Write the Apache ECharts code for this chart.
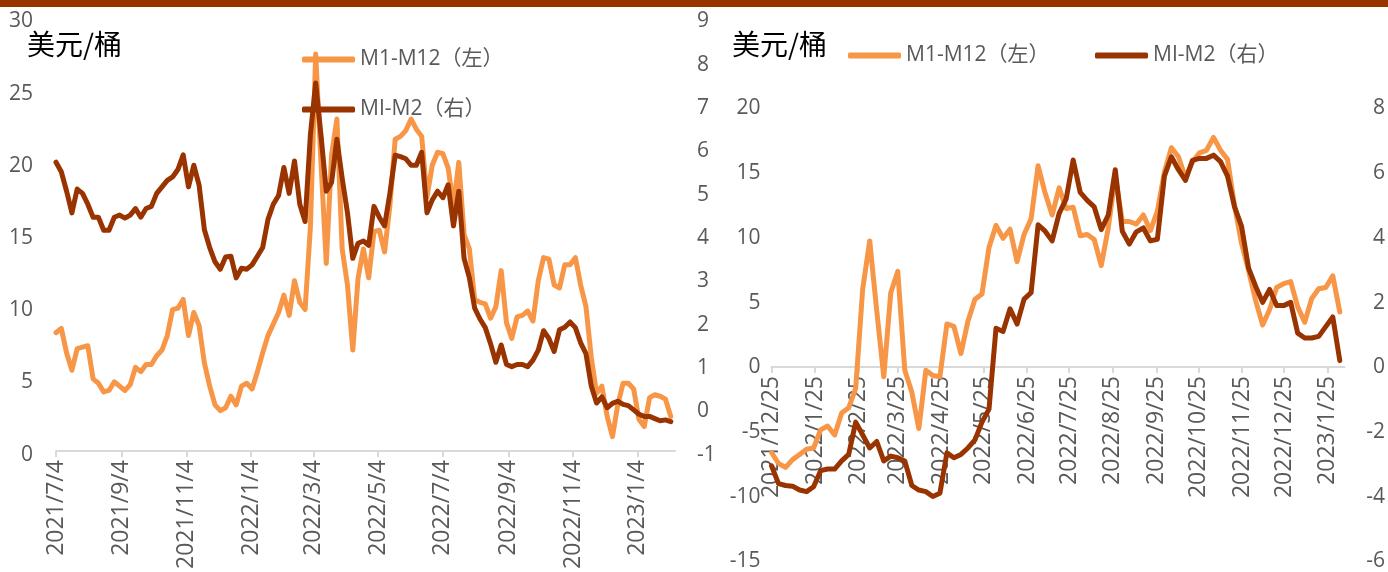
<!DOCTYPE html>
<html>
<head>
<meta charset="utf-8">
<script src="https://cdn.jsdelivr.net/npm/echarts@6/dist/echarts.min.js"></script>
<style>
html,body{margin:0;padding:0;background:#fff;}
#chart{width:1388px;height:572px;}
</style>
</head>
<body>
<div id="chart"></div>
<script>
// ---------- data ----------
const seriesNames = ['M1-M12（左）', 'MI-M2（右）'];
const unitLabel = '美元/桶';

// Left chart: one reading every 5 days starting 2021/7/4
const leftStart = '2021/7/4';
const leftEnd = '2023/2/8';
const leftStepDays = 5;
const leftTickLabels = ['2021/7/4','2021/9/4','2021/11/4','2022/1/4','2022/3/4','2022/5/4','2022/7/4','2022/9/4','2022/11/4','2023/1/4'];
const leftM1M12 = [
 8.2, 8.5, 6.8, 5.6, 7.1, 7.2, 7.3, 5.0, 4.7, 4.1,
 4.2, 4.8, 4.5, 4.2, 4.6, 5.8, 5.5, 6.0, 6.0, 6.6,
 7.0, 8.0, 9.8, 9.9, 10.5, 8.0, 9.6, 8.7, 6.1, 4.5,
 3.2, 2.8, 3.0, 3.8, 3.2, 4.5, 4.7, 4.3, 5.5, 6.8,
 8.0, 8.8, 9.6, 10.8, 9.4, 11.8, 10.3, 9.8, 15.5, 27.5,
 20.0, 13.0, 20.5, 23.0, 14.0, 11.5, 7.0, 12.0, 14.0, 12.0,
 15.2, 15.3, 13.8, 17.0, 21.6, 21.8, 22.2, 23.0, 22.3, 21.8,
 17.6, 19.8, 20.7, 20.6, 19.6, 17.0, 20.0, 15.0, 14.0, 10.5,
 10.3, 10.2, 9.2, 10.0, 12.5, 8.9, 7.8, 9.3, 9.4, 9.7,
 9.0, 11.8, 13.4, 13.3, 11.5, 11.3, 12.9, 12.9, 13.4, 11.5,
 10.0, 6.5, 4.0, 4.5, 2.4, 1.0, 3.2, 4.7, 4.7, 4.3,
 2.2, 1.7, 3.7, 3.9, 3.8, 3.6, 2.4
];
const leftM1M2 = [
 5.67, 5.45, 5.0, 4.5, 5.05, 4.95, 4.7, 4.4, 4.4, 4.1,
 4.1, 4.4, 4.45, 4.38, 4.45, 4.6, 4.4, 4.6, 4.65, 4.95,
 5.1, 5.25, 5.33, 5.5, 5.84, 5.1, 5.6, 5.14, 4.11, 3.7,
 3.37, 3.2, 3.48, 3.5, 3.0, 3.22, 3.2, 3.3, 3.5, 3.7,
 4.35, 4.7, 4.9, 5.55, 4.95, 5.7, 4.7, 4.3, 6.3, 7.5,
 6.3, 5.0, 5.2, 6.2, 5.3, 4.5, 3.45, 3.8, 3.85, 3.75,
 4.65, 4.4, 4.2, 4.95, 5.83, 5.8, 5.75, 5.6, 5.6, 5.9,
 4.5, 4.8, 5.0, 4.85, 5.15, 4.2, 5.0, 3.45, 3.0, 2.3,
 2.05, 1.85, 1.48, 1.05, 1.45, 1.0, 0.95, 1.0, 1.0, 0.95,
 1.1, 1.33, 1.78, 1.6, 1.3, 1.8, 1.86, 1.98, 1.85, 1.5,
 1.25, 0.5, 0.11, 0.25, 0.0, 0.1, 0.15, 0.08, 0.05, -0.05,
 -0.15, -0.2, -0.2, -0.25, -0.3, -0.28, -0.32
];
const leftLeftTicks = [0, 30, 5];   // min, max, interval
const leftRightTicks = [-1, 9, 1];

// Right chart: one reading every 5 days starting 2021/12/25
const rightStart = '2021/12/25';
const rightEnd = '2023/2/6';
const rightStepDays = 5;
const rightTickLabels = ['2021/12/25','2022/1/25','2022/2/25','2022/3/25','2022/4/25','2022/5/25','2022/6/25','2022/7/25','2022/8/25','2022/9/25','2022/10/25','2022/11/25','2022/12/25','2023/1/25'];
const rightM1M12 = [
 -6.85, -7.7, -8.0, -7.4, -7.0, -6.6, -6.5, -5.1, -4.8, -5.5,
 -3.8, -3.4, -1.9, 5.8, 9.5, 4.1, -1.0, 5.5, 7.15, -0.5,
 -2.2, -5.0, -0.5, -0.9, -1.0, 3.08, 2.9, 0.8, 3.3, 5.0,
 5.4, 9.0, 10.7, 9.7, 10.4, 7.9, 10.0, 11.2, 15.3, 13.2,
 11.5, 13.6, 12.0, 12.1, 9.9, 10.0, 9.6, 7.6, 10.5, 14.5,
 11.0, 11.0, 10.8, 11.5, 10.3, 11.8, 14.8, 16.7, 16.0, 14.4,
 15.6, 16.3, 16.5, 17.5, 16.5, 15.8, 12.2, 9.3, 7.2, 4.9,
 3.0, 4.2, 5.9, 6.2, 6.35, 4.4, 3.22, 5.05, 5.8, 5.9,
 6.8, 4.0
];
const rightM1M2 = [
 -3.15, -3.7, -3.76, -3.78, -3.9, -3.95, -3.8, -3.3, -3.25, -3.25,
 -3.0, -2.8, -1.8, -2.2, -2.6, -2.4, -3.0, -2.85, -2.9, -3.0,
 -3.76, -3.9, -3.95, -4.1, -4.0, -2.75, -2.9, -2.8, -2.6, -2.35,
 -1.8, -1.4, 1.1, 1.0, 1.7, 1.23, 2.0, 2.2, 4.3, 4.1,
 3.8, 4.65, 5.1, 6.3, 5.3, 5.05, 4.85, 4.15, 4.6, 6.0,
 4.1, 3.7, 4.08, 4.2, 3.8, 3.85, 5.8, 6.4, 6.0, 5.67,
 6.29, 6.35, 6.35, 6.45, 6.25, 5.8, 4.85, 4.25, 2.96, 2.4,
 1.9, 2.3, 1.8, 1.8, 1.9, 0.95, 0.8, 0.8, 0.85, 1.15,
 1.45, 0.1
];
const rightLeftTicks = [-15, 20, 5];
const rightRightTicks = [-6, 8, 2];

// ---------- helpers ----------
function parseDate(s, addDays) {
  const p = s.split('/').map(Number);
  return new Date(p[0], p[1] - 1, p[2] + (addDays || 0)).getTime();
}
function fmtDate(v) {
  const d = new Date(v);
  return d.getFullYear() + '/' + (d.getMonth() + 1) + '/' + d.getDate();
}
function pairs(start, step, vals) {
  return vals.map((v, i) => [parseDate(start, i * step), v]);
}

const ORANGE = '#F79646';
const BROWN = '#993300';
const GRAY = '#595959';
const AXIS = '#D9D9D9';
const FONT = "'Open Sans', 'Noto Sans CJK SC', sans-serif";

function xAxisDef(gridIndex, min, max, ticks, visible) {
  const tv = ticks.map(s => parseDate(s));
  return {
    type: 'value', gridIndex: gridIndex, min: min, max: max, scale: true, show: visible,
    axisLine: { show: true, lineStyle: { color: AXIS, width: 2 } },
    axisTick: { show: true, customValues: tv, length: 6, lineStyle: { color: AXIS, width: 2 } },
    axisLabel: { customValues: tv, rotate: 90, margin: 9, fontSize: 23, color: GRAY, fontFamily: FONT, formatter: fmtDate, showMinLabel: true, showMaxLabel: true },
    splitLine: { show: false }
  };
}
function yAxisDef(gridIndex, pos, t, margin, align) {
  const lab = {
    fontSize: 21, color: GRAY, fontFamily: FONT, margin: margin,
    formatter: v => '{v|' + v + '}',
    rich: { v: { fontSize: 21, color: GRAY, fontFamily: FONT, padding: [7, 0, 0, 0] } }
  };
  if (align) lab.align = align;
  return {
    type: 'value', gridIndex: gridIndex, position: pos,
    min: t[0], max: t[1], interval: t[2],
    axisLine: { show: false }, axisTick: { show: false }, splitLine: { show: false },
    axisLabel: lab
  };
}
function lineSeries(name, xi, yi, data, color) {
  return {
    name: name, type: 'line', xAxisIndex: xi, yAxisIndex: yi,
    data: data, showSymbol: false, symbol: 'none', color: color,
    lineStyle: { color: color, width: 5, cap: 'round', join: 'round' },
    animation: false
  };
}
function legendDef(name, left, top) {
  return {
    data: [name], left: left, top: top, icon: 'roundRect',
    itemWidth: 53, itemHeight: 6, itemGap: 0,
    textStyle: { fontSize: 21, color: GRAY, fontFamily: FONT },
    selectedMode: false
  };
}

const chart = echarts.init(document.getElementById('chart'));
chart.setOption({
  animation: false,
  backgroundColor: '#fff',
  textStyle: { fontFamily: FONT },
  grid: [
    { left: 56, top: 18, width: 619, height: 437 },
    { left: 771.5, top: 105, width: 573, height: 458.5 },
    // upper half of the right chart: its bottom edge is the zero line, where the date axis sits
    { left: 771.5, top: 105, width: 573, height: 262 }
  ],
  xAxis: [
    xAxisDef(0, parseDate(leftStart), parseDate(leftEnd), leftTickLabels, true),
    xAxisDef(1, parseDate(rightStart), parseDate(rightEnd), rightTickLabels, false),
    xAxisDef(2, parseDate(rightStart), parseDate(rightEnd), rightTickLabels, true)
  ],
  yAxis: [
    yAxisDef(0, 'left', leftLeftTicks, 23),
    yAxisDef(0, 'right', leftRightTicks, 22),
    yAxisDef(1, 'left', rightLeftTicks, 11),
    yAxisDef(1, 'right', rightRightTicks, 41, 'right'),
    { type: 'value', gridIndex: 2, min: 0, max: 1, show: false }
  ],
  legend: [
    legendDef(seriesNames[0], 297, 44),
    legendDef(seriesNames[1], 297, 94),
    legendDef(seriesNames[0], 843, 40),
    legendDef(seriesNames[1], 1090, 40)
  ],
  graphic: [
    { type: 'rect', left: 0, top: 0, shape: { width: 1388, height: 7 }, style: { fill: BROWN }, z: 100 },
    { type: 'text', left: 27, top: 30, style: { text: unitLabel, fontSize: 28, fill: '#000', fontFamily: "'Noto Sans CJK SC', sans-serif" } },
    { type: 'text', left: 732, top: 30, style: { text: unitLabel, fontSize: 28, fill: '#000', fontFamily: "'Noto Sans CJK SC', sans-serif" } }
  ],
  series: [
    lineSeries(seriesNames[0], 0, 0, pairs(leftStart, leftStepDays, leftM1M12), ORANGE),
    lineSeries(seriesNames[1], 0, 1, pairs(leftStart, leftStepDays, leftM1M2), BROWN),
    lineSeries(seriesNames[0], 1, 2, pairs(rightStart, rightStepDays, rightM1M12), ORANGE),
    lineSeries(seriesNames[1], 1, 3, pairs(rightStart, rightStepDays, rightM1M2), BROWN)
  ]
});
</script>
</body>
</html>
